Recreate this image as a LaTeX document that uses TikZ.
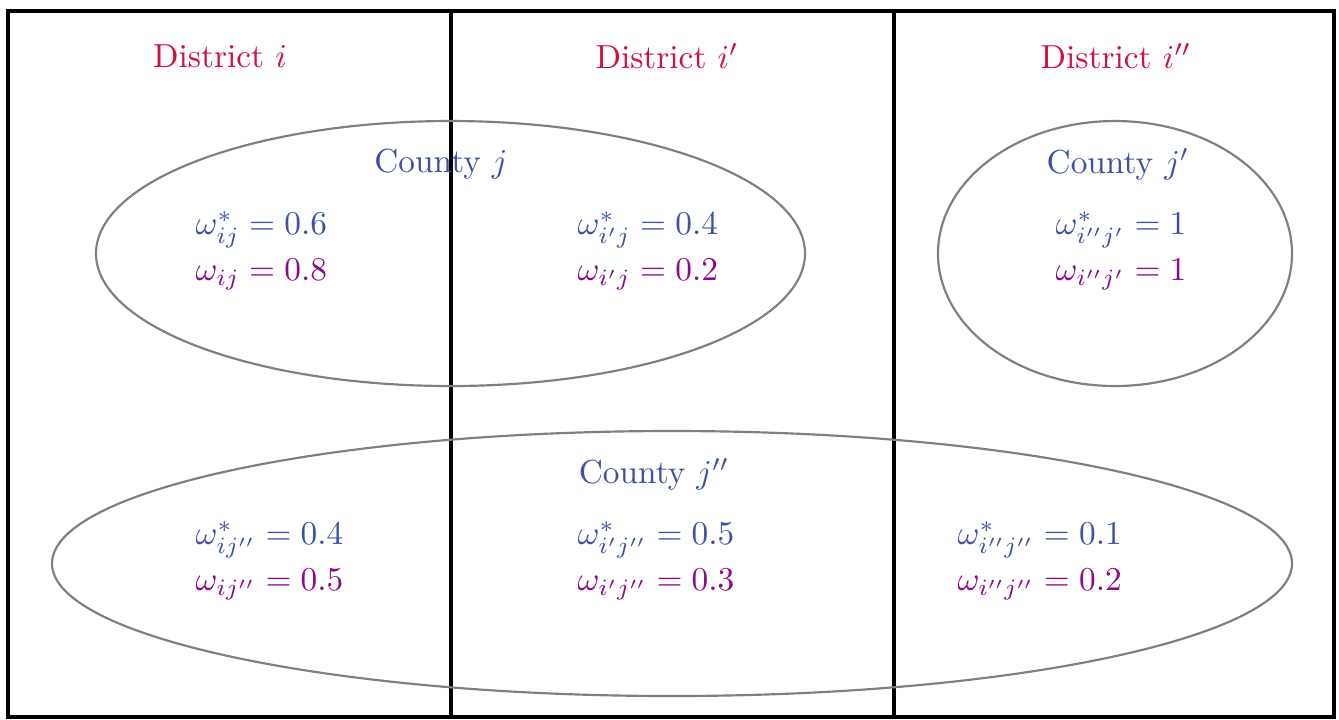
\documentclass[tikz,border=0pt]{standalone}
\definecolor{dred}{HTML}{CF1040}
\definecolor{cblue}{HTML}{3F51A5}
\definecolor{wpurp}{HTML}{8A0A8A}
\begin{document}
\begin{tikzpicture}[x=0.3pt,y=-0.3pt,
  frame/.style={draw=black,line width=1pt},
  county/.style={draw=gray,line width=0.65pt},
  dist/.style={text=dred,font=\fontsize{10}{12}\selectfont},
  cty/.style={text=cblue,font=\fontsize{10}{12}\selectfont},
  wstar/.style={text=cblue,anchor=west,inner sep=0pt,font=\fontsize{10}{12}\selectfont},
  wobs/.style={text=wpurp,anchor=west,inner sep=0pt,font=\fontsize{10}{12}\selectfont}]
\useasboundingbox (0,0) rectangle (1339,719);
\draw[frame] (8,11) rectangle (1334,717);
\coordinate (t1) at (451,11); \coordinate (b1) at (451,717);
\coordinate (t2) at (894,11); \coordinate (b2) at (894,717);
\draw[frame] (t1) -- (b1);
\draw[frame] (t2) -- (b2);
\draw[county] (450.5,253.5) ellipse [x radius=354.5, y radius=132.5];
\draw[county] (1115,253.5) ellipse [x radius=177, y radius=132.5];
\draw[county] (672,563.5) ellipse [x radius=620, y radius=132.5];
\node[dist] (d1) at (220,56) {District $i$};
\node[dist] (d2) at (667,56) {District $i'$};
\node[dist] (d3) at (1116,56) {District $i''$};
\node[cty] (c1) at (441,164) {County $j$};
\node[cty] (c2) at (1118,164) {County $j'$};
\node[cty] (c3) at (654,474) {County $j''$};
\node[wstar] (a1) at (195,230) {$\omega^*_{ij}=0.6$};
\node[wobs] (b1n) at (195,275) {$\omega_{ij}=0.8$};
\node[wstar] (a2) at (577,230) {$\omega^*_{i'j}=0.4$};
\node[wobs] (b2n) at (577,275) {$\omega_{i'j}=0.2$};
\node[wstar] (a3) at (1055,230) {$\omega^*_{i''j'}=1$};
\node[wobs] (b3n) at (1055,275) {$\omega_{i''j'}=1$};
\node[wstar] (a4) at (195,540) {$\omega^*_{ij''}=0.4$};
\node[wobs] (b4n) at (195,585) {$\omega_{ij''}=0.5$};
\node[wstar] (a5) at (577,540) {$\omega^*_{i'j''}=0.5$};
\node[wobs] (b5n) at (577,585) {$\omega_{i'j''}=0.3$};
\node[wstar] (a6) at (957,540) {$\omega^*_{i''j''}=0.1$};
\node[wobs] (b6n) at (957,585) {$\omega_{i''j''}=0.2$};
\end{tikzpicture}
\end{document}
